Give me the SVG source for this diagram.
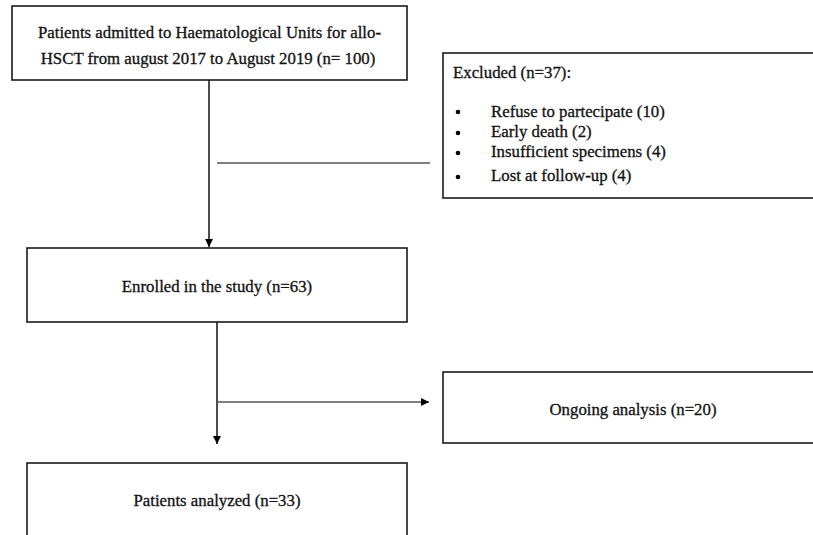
<svg xmlns="http://www.w3.org/2000/svg" width="813" height="535" viewBox="0 0 813 535">
<defs>
<marker id="ah" viewBox="0 0 10 10" refX="10" refY="5" markerWidth="8" markerHeight="8" markerUnits="userSpaceOnUse" orient="auto">
<path d="M0,0 L10,5 L0,10 z" fill="#000"/>
</marker>
<style>
.box{fill:#fff;stroke:#1a1a1a;stroke-width:1.6}
.t{font-family:"Liberation Serif","Times New Roman",serif;font-size:16.8px;fill:#111;stroke:#111;stroke-width:0.3}
.c{text-anchor:middle}
.ln{fill:none;stroke:#111;stroke-width:1.5}
.gl{fill:none;stroke:#555;stroke-width:1.6}
.b{fill:#000}
</style>
</defs>
<rect x="0" y="0" width="813" height="535" fill="#fff"/>
<g id="connectors">
<line class="ln" x1="209" y1="80" x2="209" y2="247" marker-end="url(#ah)"/>
<line class="gl" x1="217" y1="163" x2="430" y2="163"/>
<line class="ln" x1="217" y1="322" x2="217" y2="444" marker-end="url(#ah)"/>
<line class="gl" x1="217" y1="402" x2="429" y2="402" marker-end="url(#ah)"/>
</g>
<g id="admitted">
<rect class="box" x="12" y="6" width="395" height="74"/>
<text class="t c" x="209.5" y="38">Patients admitted to Haematological Units for allo-</text>
<text class="t c" x="208" y="64">HSCT from august 2017 to August 2019 (n= 100)</text>
</g>
<g id="excluded">
<rect class="box" x="443" y="53" width="380" height="145"/>
<text class="t" x="453" y="78">Excluded (n=37):</text>
<circle class="b" cx="458" cy="112" r="2.3"/><text class="t" x="491" y="117">Refuse to partecipate (10)</text>
<circle class="b" cx="458" cy="133" r="2.3"/><text class="t" x="491" y="137">Early death (2)</text>
<circle class="b" cx="458" cy="153" r="2.3"/><text class="t" x="491" y="157">Insufficient specimens (4)</text>
<circle class="b" cx="458" cy="177" r="2.3"/><text class="t" x="491" y="181">Lost at follow-up (4)</text>
</g>
<g id="enrolled">
<rect class="box" x="27" y="248" width="380" height="74"/>
<text class="t c" x="217" y="292">Enrolled in the study (n=63)</text>
</g>
<g id="ongoing">
<rect class="box" x="443" y="372" width="380" height="71"/>
<text class="t c" x="633" y="415">Ongoing analysis (n=20)</text>
</g>
<g id="analyzed">
<rect class="box" x="27" y="463" width="380" height="90"/>
<text class="t c" x="217" y="506">Patients analyzed (n=33)</text>
</g>
</svg>
